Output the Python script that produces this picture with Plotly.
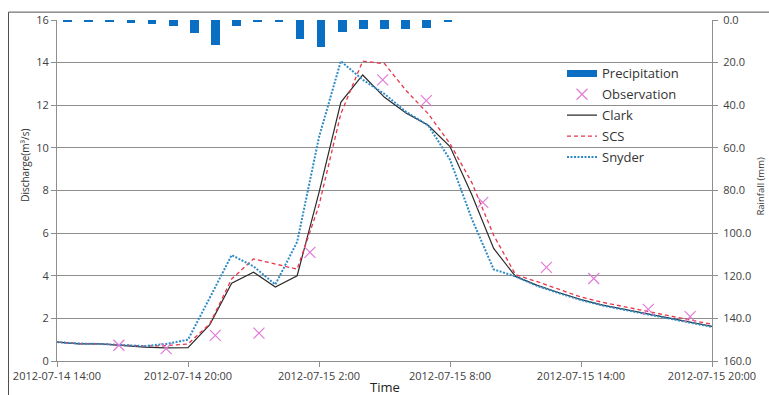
import pandas as pd
import plotly.graph_objects as go

# ---- data -------------------------------------------------------------
# hourly simulation time steps, 2012-07-14 14:00 .. 2012-07-15 20:00
sim_time = pd.date_range("2012-07-14 14:00", "2012-07-15 20:00", freq="h")

clark = [0.89, 0.80, 0.80, 0.72, 0.65, 0.62, 0.63, 1.71, 3.65, 4.17, 3.47,
         4.00, 7.90, 12.14, 13.42, 12.37, 11.63, 11.06, 10.06, 7.80, 5.28,
         3.97, 3.55, 3.20, 2.88, 2.62, 2.42, 2.23, 2.02, 1.82, 1.62]
scs = [0.89, 0.82, 0.80, 0.75, 0.70, 0.72, 0.80, 1.75, 3.85, 4.79, 4.55,
       4.31, 7.30, 11.60, 14.07, 13.95, 12.68, 11.60, 10.20, 8.37, 5.90,
       4.05, 3.72, 3.35, 3.00, 2.75, 2.55, 2.35, 2.15, 1.93, 1.72]
snyder = [0.89, 0.82, 0.80, 0.75, 0.70, 0.80, 1.00, 2.97, 4.97, 4.44, 3.59,
          5.59, 10.50, 14.07, 13.20, 12.53, 11.68, 11.06, 9.45, 6.67, 4.30,
          3.97, 3.52, 3.18, 2.86, 2.60, 2.40, 2.21, 2.00, 1.80, 1.60]

# observed discharge (m3/s)
obs_time = ["2012-07-14 16:50", "2012-07-14 19:00", "2012-07-14 21:15",
            "2012-07-14 23:15", "2012-07-15 01:35", "2012-07-15 04:55",
            "2012-07-15 06:55", "2012-07-15 09:30", "2012-07-15 12:25",
            "2012-07-15 14:35", "2012-07-15 17:05", "2012-07-15 19:00"]
obs_q = [0.74, 0.58, 1.20, 1.31, 5.10, 13.19, 12.22, 7.44, 4.39, 3.87,
         2.42, 2.08]

# hourly rainfall (mm), 2012-07-14 14:00 .. 2012-07-15 08:00
rain_time = pd.date_range("2012-07-14 14:00", "2012-07-15 08:00", freq="h")
rain_mm = [0.5, 0.5, 0.5, 1.2, 2.0, 3.0, 6.3, 11.7, 3.0, 0.8, 0.5, 8.9,
           12.9, 5.4, 4.2, 4.2, 4.2, 3.8, 0.8]

x_tick_time = pd.date_range("2012-07-14 14:00", "2012-07-15 20:00", freq="6h")
x_tick_text = ["2012-07-14 14:00", "2012-07-14 20:00", "2012-07-15 2:00",
               "2012-07-15 8:00", "2012-07-15 14:00", "2012-07-15 20:00"]
rain_ticks = [0, 20, 40, 60, 80, 100, 120, 140, 160]

# ---- styling ----------------------------------------------------------
FONT = "Open Sans"
BLUE_BAR = "#0A6FC2"
PINK = "#E27AD6"
BLACK = "#2b2b2b"
RED = "#E8364A"
BLUE_DOT = "#2F8BC6"
GRID = "#8e8e8e"
TXT = "#404040"

W, H = 769, 395
ML, MR, MT, MB = 57, 57, 18, 31

fig = go.Figure()

fig.add_trace(go.Bar(
    x=rain_time, y=rain_mm, xaxis="x2", yaxis="y2",
    width=0.41 * 3600 * 1000, marker=dict(color=BLUE_BAR, line=dict(width=0)),
    name="Precipitation", showlegend=False))
# legend entry drawn as a wide flat bar
fig.add_trace(go.Scatter(
    x=[None], y=[None], mode="lines", line=dict(color=BLUE_BAR, width=7),
    name="Precipitation", legendrank=1, legendgroup="a"))

fig.add_trace(go.Scatter(
    x=sim_time, y=clark, mode="lines", name="Clark",
    line=dict(color=BLACK, width=1.2), legendrank=3, legendgroup="c"))
fig.add_trace(go.Scatter(
    x=sim_time, y=scs, mode="lines", name="SCS",
    line=dict(color=RED, width=1.3, dash="4px,3px"), legendrank=4,
    legendgroup="d"))
fig.add_trace(go.Scatter(
    x=sim_time, y=snyder, mode="lines", name="Snyder",
    line=dict(color=BLUE_DOT, width=2, dash="2px,1.5px"), legendrank=5,
    legendgroup="e"))
fig.add_trace(go.Scatter(
    x=pd.to_datetime(obs_time), y=obs_q, mode="markers", name="Observation",
    marker=dict(symbol="x-thin", size=11, line=dict(color=PINK, width=1.2),
                color=PINK),
    legendrank=2, legendgroup="b"))

pw = W - ML - MR
ph = H - MT - MB


def px(x):
    return (x - ML) / pw


def py(y):
    return 1 - (y - MT) / ph


fig.update_layout(
    width=W, height=H,
    margin=dict(l=ML, r=MR, t=MT, b=MB, pad=0),
    paper_bgcolor="white", plot_bgcolor="white",
    font=dict(family=FONT, size=11, color=TXT),
    showlegend=True,
    legend=dict(
        x=px(562), y=py(57), xanchor="left", yanchor="top",
        bgcolor="rgba(0,0,0,0)", borderwidth=0,
        font=dict(family=FONT, size=13, color="#333333"),
        traceorder="grouped", tracegroupgap=1,
        itemwidth=30,
    ),
    bargap=0,
    xaxis=dict(
        type="date",
        range=[sim_time[0], sim_time[-1]],
        tickvals=x_tick_time, ticktext=x_tick_text,
        ticks="outside", ticklen=5, tickcolor=GRID,
        showline=True, linecolor=GRID, linewidth=1,
        showgrid=False, zeroline=False,
        tickfont=dict(family=FONT, size=11, color=TXT),
    ),
    xaxis2=dict(
        type="date", overlaying="x", anchor="y2",
        range=[pd.Timestamp("2012-07-14 13:30"),
               pd.Timestamp("2012-07-15 20:30")],
        visible=False,
    ),
    yaxis=dict(
        range=[0, 16], dtick=2, tick0=0,
        showgrid=True, gridcolor=GRID, gridwidth=1,
        showline=True, linecolor=GRID, linewidth=1,
        ticks="outside", ticklen=5, tickcolor=GRID,
        zeroline=False,
        tickfont=dict(family=FONT, size=11, color=TXT),
    ),
    yaxis2=dict(
        overlaying="y", side="right", anchor="x",
        range=[160, 0],
        tickvals=rain_ticks, ticktext=[f"{v:.1f}" for v in rain_ticks],
        showgrid=False, zeroline=False,
        showline=True, linecolor=GRID, linewidth=1,
        ticks="outside", ticklen=5, tickcolor=GRID,
        ticklabelstandoff=3,
        tickfont=dict(family=FONT, size=11, color=TXT),
    ),
    annotations=[
        dict(text="Discharge(m³/s)", xref="paper", yref="paper",
             x=px(25), y=py(166), textangle=-90, showarrow=False,
             xanchor="center", yanchor="middle",
             font=dict(family=FONT, size=10, color="#333333")),
        dict(text="Rainfall (mm)", xref="paper", yref="paper",
             x=px(761), y=py(187), textangle=-90, showarrow=False,
             xanchor="center", yanchor="middle",
             font=dict(family=FONT, size=9.5, color="#333333")),
        dict(text="Time", xref="paper", yref="paper",
             x=px(385), y=py(390), showarrow=False,
             xanchor="center", yanchor="middle",
             font=dict(family=FONT, size=13, color="#222222")),
    ],
    shapes=[
        dict(type="rect", xref="paper", yref="paper",
             x0=px(8.5), y0=py(400), x1=px(775), y1=py(10),
             line=dict(color="#505050", width=1), layer="below"),
        # white backing behind the legend, above the gridlines
        dict(type="rect", xref="paper", yref="paper",
             x0=px(556), y0=py(166), x1=px(688), y1=py(63),
             fillcolor="white", line=dict(width=0), layer="between"),
    ],
)

fig.write_html("out.html")
